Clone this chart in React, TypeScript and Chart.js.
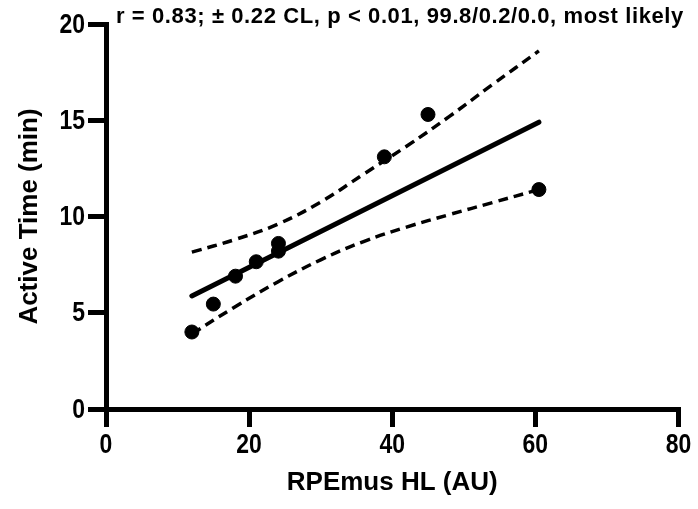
import React, { useEffect, useRef } from "react";
import { Chart, registerables } from "chart.js";
Chart.register(...registerables);

const pointsX = [12, 15, 18.1, 21, 24.1, 24.1, 38.9, 45, 60.5];
const pointsY = [4.0, 5.45, 6.9, 7.65, 8.6, 8.2, 13.1, 15.3, 11.4];
const fitX = [12, 60.5];
const fitY = [5.87, 14.9];
const ciX = [12, 18, 24, 30, 36, 42, 48, 54, 60.5];
const upperY = [8.15, 8.8, 9.6, 10.75, 12.2, 13.65, 15.2, 16.85, 18.6];
const lowerY = [3.9, 5.3, 6.6, 7.75, 8.7, 9.45, 10.1, 10.72, 11.4];
const xTicks = [0, 20, 40, 60, 80];
const yTicks = [0, 5, 10, 15, 20];
const xTitle = "RPEmus HL (AU)";
const yTitle = "Active Time (min)";
const annotation = "r = 0.83; ± 0.22 CL, p < 0.01, 99.8/0.2/0.0, most likely";

const zip = (xs: number[], ys: number[]) => xs.map((x, i) => ({ x, y: ys[i] }));

const TITLE_FONT = { family: "'Liberation Sans', Arial, sans-serif", size: 26, weight: "bold" as const };

const textPlugin = {
  id: "textPlugin",
  afterDraw(chart: any) {
    const ctx = chart.ctx;
    ctx.save();
    ctx.fillStyle = "#000";
    ctx.font = "bold 22px 'Liberation Sans', Arial, sans-serif";
    (ctx as any).letterSpacing = "0.6px";
    ctx.textAlign = "left";
    ctx.textBaseline = "middle";
    ctx.fillText(annotation, 116, 17);
    (ctx as any).letterSpacing = "0px";
    ctx.font = "bold 28px 'Liberation Sans', Arial, sans-serif";
    const xs = chart.scales.x;
    const ys = chart.scales.y;
    ctx.textAlign = "center";
    for (const v of xTicks) {
      const px = xs.getPixelForValue(v);
      ctx.save();
      ctx.translate(px, xs.top + 36);
      ctx.scale(0.82, 1);
      ctx.fillText(String(v), 0, 0);
      ctx.restore();
    }
    ctx.textAlign = "right";
    for (const v of yTicks) {
      const py = ys.getPixelForValue(v);
      ctx.save();
      ctx.translate(ys.right - 21, py + 1);
      ctx.scale(0.82, 1);
      ctx.fillText(String(v), 0, 0);
      ctx.restore();
    }
    ctx.restore();
  },
};

export default function App() {
  const ref = useRef<HTMLCanvasElement>(null);
  useEffect(() => {
    document.body.style.margin = "0";
    const chart = new Chart(ref.current!, {
      type: "scatter",
      data: {
        datasets: [
          {
            data: zip(pointsX, pointsY),
            backgroundColor: "#000",
            borderColor: "#000",
            pointRadius: 7,
            showLine: false,
            order: 0,
          },
          {
            data: zip(fitX, fitY),
            showLine: true,
            borderColor: "#000",
            borderWidth: 5,
            pointRadius: 0,
            borderCapStyle: "round",
            order: 1,
          },
          {
            data: zip(ciX, upperY),
            showLine: true,
            borderColor: "#000",
            borderWidth: 3.5,
            borderDash: [10, 6],
            pointRadius: 0,
            tension: 0.4,
            order: 2,
          },
          {
            data: zip(ciX, lowerY),
            showLine: true,
            borderColor: "#000",
            borderWidth: 3.5,
            borderDash: [10, 6],
            pointRadius: 0,
            tension: 0.4,
            order: 3,
          },
        ],
      } as any,
      options: {
        animation: false,
        responsive: false,
        devicePixelRatio: 1,
        layout: { padding: { top: 24, right: 16, left: 0, bottom: 0 } },
        plugins: { legend: { display: false }, tooltip: { enabled: false } },
        scales: {
          x: {
            type: "linear",
            min: 0,
            max: 80,
            afterBuildTicks: (s: any) => { s.ticks = xTicks.map((v) => ({ value: v })); },
            afterFit: (s: any) => { s.height = 100; },
            ticks: { color: "rgba(0,0,0,0)", font: { size: 28 }, padding: 4, maxRotation: 0 },
            grid: { display: true, drawOnChartArea: false, drawTicks: true, tickLength: 18, lineWidth: 5, color: "#000" },
            border: { display: true, width: 5, color: "#000" },
            title: { display: true, text: xTitle, color: "#000", font: TITLE_FONT, padding: { top: 0, bottom: 11 } },
          },
          y: {
            type: "linear",
            min: 0,
            max: 20,
            afterBuildTicks: (s: any) => { s.ticks = yTicks.map((v) => ({ value: v })); },
            afterFit: (s: any) => { s.width = 106; },
            ticks: { color: "rgba(0,0,0,0)", font: { size: 28 }, padding: 3 },
            grid: { display: true, drawOnChartArea: false, drawTicks: true, tickLength: 18, lineWidth: 5, color: "#000" },
            border: { display: true, width: 5, color: "#000" },
            title: { display: true, text: yTitle, color: "#000", font: TITLE_FONT, padding: { top: 14, bottom: 0 } },
          },
        },
      } as any,
      plugins: [textPlugin],
    });
    return () => chart.destroy();
  }, []);
  return (
    <div style={{ width: 698, height: 509, background: "#fff" }}>
      <canvas ref={ref} width={698} height={509} />
    </div>
  );
}
